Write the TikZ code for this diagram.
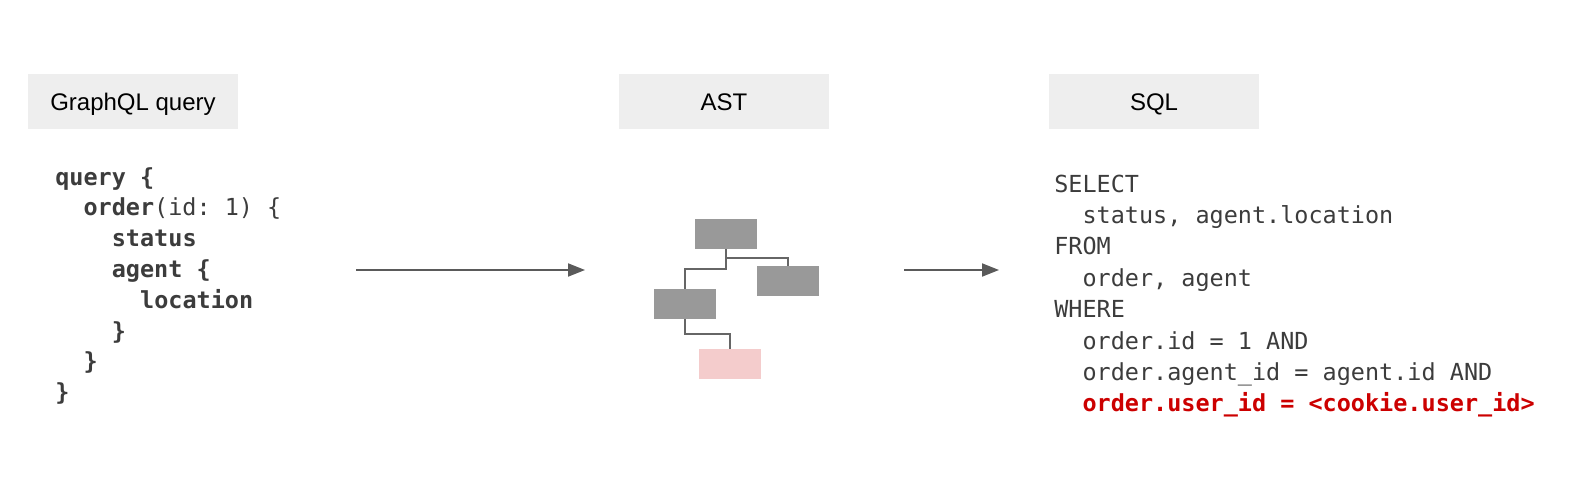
\documentclass[tikz,border=0pt]{standalone}
\usepackage{fontspec}
\setmainfont{Liberation Sans}
\newfontfamily\codefont{DejaVu Sans Mono}
\usetikzlibrary{arrows.meta}
\definecolor{hdrfill}{HTML}{EEEEEE}
\definecolor{codegray}{HTML}{3C3C3C}
\definecolor{arrowgray}{HTML}{5A5A5A}
\definecolor{treebox}{HTML}{999999}
\definecolor{treeline}{HTML}{666666}
\definecolor{pinkbox}{HTML}{F4CCCC}
\definecolor{hotred}{HTML}{CC0000}
\frenchspacing
\tikzset{
  hdrbox/.style={fill=hdrfill, draw=none, minimum width=157.5pt, minimum height=41.25pt,
    inner sep=0pt, text height=12.9pt, text depth=0pt,
    font=\fontsize{18pt}{20pt}\selectfont, text=black},
  codeline/.style={anchor=base west, inner sep=0pt,
    font=\codefont\fontsize{17.6pt}{20pt}\selectfont\frenchspacing, text=codegray},
  redline/.style={codeline, text=hotred},
  flowarrow/.style={line width=1.5pt, draw=arrowgray,
    -{Triangle[length=12.75pt,width=9.75pt]}},
  astbox/.style={fill=treebox, draw=none, minimum width=46.5pt, minimum height=22.5pt, inner sep=0pt},
  astpink/.style={astbox, fill=pinkbox},
  astlink/.style={line width=1.7pt, draw=treeline},
}
\begin{document}
\begin{tikzpicture}[x=0.75pt,y=-0.75pt]
\useasboundingbox (0,0) rectangle (1596,500);

% headers
\node[hdrbox] (hq) at (133,101.5) {GraphQL query};
\node[hdrbox] (hast) at (724,101.5) {AST};
\node[hdrbox] (hsql) at (1154,101.5) {SQL};

% GraphQL code
\node[codeline] (q1) at (55,185.0) {\bfseries query \{};
\node[codeline] (q2) at (83.3,215.8) {\textbf{order}(id: 1) \{};
\node[codeline] (q3) at (111.6,246.6) {\bfseries status};
\node[codeline] (q4) at (111.6,277.4) {\bfseries agent \{};
\node[codeline] (q5) at (139.9,308.2) {\bfseries location};
\node[codeline] (q6) at (111.6,339.0) {\bfseries \}};
\node[codeline] (q7) at (83.3,369.8) {\bfseries \}};
\node[codeline] (q8) at (55,400.6) {\bfseries \}};

% arrows
\coordinate (a1s) at (356,270);
\coordinate (a1e) at (585,270);
\coordinate (a2s) at (904,270);
\coordinate (a2e) at (999,270);
\draw[flowarrow] (a1s) -- (a1e);
\draw[flowarrow] (a2s) -- (a2e);

% AST tree
\node[astbox] (t0) at (726,234) {};
\node[astbox] (t1) at (788,281) {};
\node[astbox] (t2) at (685,304) {};
\node[astpink] (t3) at (730,364) {};
\coordinate (b1) at (726,258);
\coordinate (b2) at (726,269);
\coordinate (b3) at (685,334);
\draw[astlink] (t0.south) -- (b1) -| (t1.north);
\draw[astlink] (b1) -- (b2) -| (t2.north);
\draw[astlink] (t2.south) -- (b3) -| (t3.north);

% SQL code
\node[codeline] (s1) at (1054,192.0) {SELECT};
\node[codeline] (s2) at (1082.3,223.4) {status, agent.location};
\node[codeline] (s3) at (1054,254.8) {FROM};
\node[codeline] (s4) at (1082.3,286.2) {order, agent};
\node[codeline] (s5) at (1054,317.6) {WHERE};
\node[codeline] (s6) at (1082.3,349.0) {order.id = 1 AND};
\node[codeline] (s7) at (1082.3,380.4) {order.agent\_id = agent.id AND};
\node[redline] (s8) at (1082.3,411.8) {\bfseries order.user\_id = <cookie.user\_id>};
\end{tikzpicture}
\end{document}
